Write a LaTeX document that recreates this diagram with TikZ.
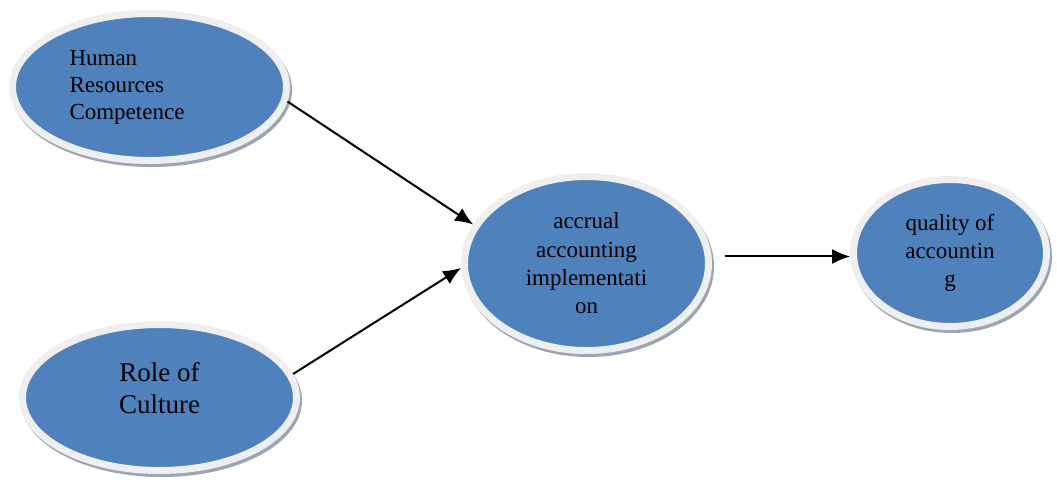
\documentclass[tikz,border=0pt]{standalone}
\usepackage{fontspec}
\setmainfont{Liberation Serif}
\usepackage{tikz}
\usetikzlibrary{shapes,arrows.meta,shadows}
\definecolor{bubblefill}{HTML}{4F81BD}
\definecolor{bubblerim}{HTML}{EFEFEF}
\definecolor{bubbleshade}{HTML}{9AA5B5}
\tikzstyle{line} = [draw, line width=1pt, -{Latex[length=9pt,width=7.5pt]}]
\tikzstyle{bubble} = [draw=bubblerim, fill=bubblefill, ellipse, line width=3.5pt, inner sep=0pt, text centered,
    drop shadow={shadow xshift=1pt, shadow yshift=-1.5pt, fill=bubbleshade, draw=bubbleshade, line width=3.5pt, opacity=1}]

\begin{document}
\begin{tikzpicture}[x=0.5pt, y=-0.5pt]
        \useasboundingbox (0,0) rectangle (1057,479);
        \node[bubble, minimum width=137pt, minimum height=73.5pt, text width=80pt, align=left,
              font=\fontsize{11.5}{13.5}\selectfont] (hrc) at (149.5,87) {Human\\Resources\\Competence};
        \node[bubble, minimum width=137pt, minimum height=73pt, align=center, text depth=10pt,
              font=\fontsize{13.5}{16}\selectfont] (roc) at (159.5,397.5) {Role of\\Culture};
        \node[bubble, minimum width=122pt, minimum height=87pt, align=center,
              font=\fontsize{11.5}{14.2}\selectfont] (aai) at (586.5,263.5) {accrual\\accounting\\implementati\\on};
        \node[bubble, minimum width=96.5pt, minimum height=73.5pt, align=center,
              font=\fontsize{11.5}{14}\selectfont] (qoa) at (950,253) {quality of\\accountin\\g};
        \path[line] (hrc.-6) -- (aai.161);
        \path[line] (roc.10) -- (aai.-178);
        \path[line, shorten <=6.5pt] (aai.3 |- qoa.-178) -- (qoa.-178);
    \end{tikzpicture}
\end{document}
